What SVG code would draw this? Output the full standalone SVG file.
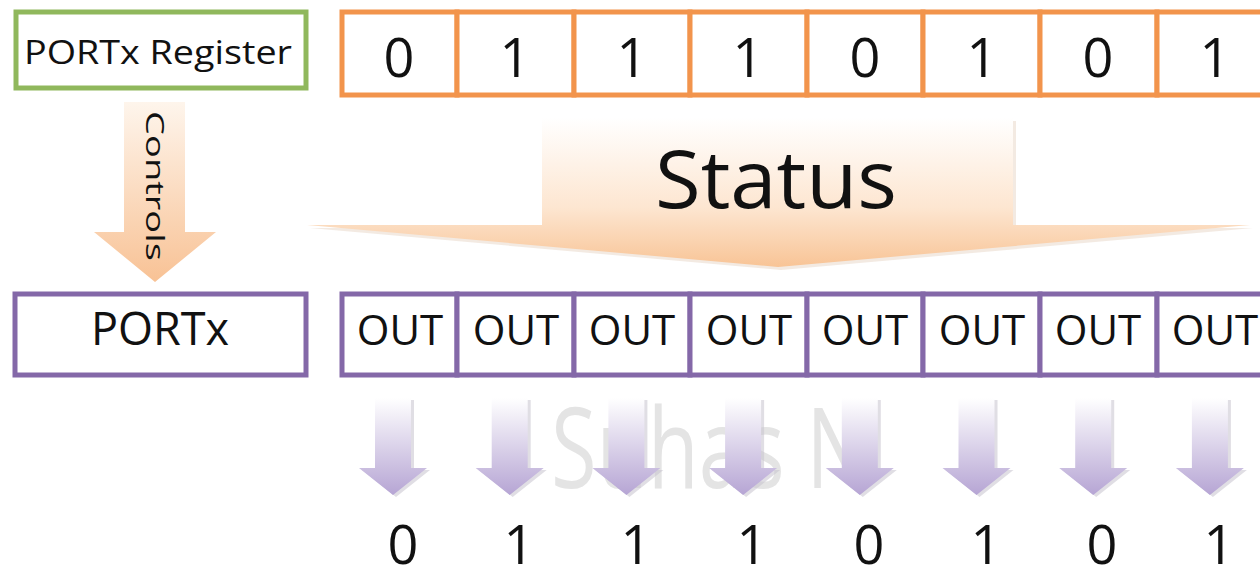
<svg xmlns="http://www.w3.org/2000/svg" width="1260" height="566" viewBox="0 0 1260 566">
<defs>
<linearGradient id="gPeach" x1="0" y1="0" x2="0" y2="1">
<stop offset="0" stop-color="#ffffff"/>
<stop offset="0.6" stop-color="#fde6d1"/>
<stop offset="1" stop-color="#f8c496"/>
</linearGradient>
<linearGradient id="gCtrl" x1="0" y1="0" x2="0" y2="1">
<stop offset="0" stop-color="#fef5ec"/>
<stop offset="1" stop-color="#f8c295"/>
</linearGradient>
<linearGradient id="gPurple" x1="0" y1="0" x2="0" y2="1">
<stop offset="0" stop-color="#ffffff"/>
<stop offset="1" stop-color="#b6a5d4"/>
</linearGradient>
<polygon id="outArrow" points="-18,0 18,0 18,70 34,70 0,97 -34,70 -18,70"/>
</defs>
<style>
.txt{font-family:"Open Sans","Liberation Sans",sans-serif;fill:#111;text-anchor:middle}
.orange{fill:#fff;stroke:#f2944c;stroke-width:5}
.purple{fill:#fff;stroke:#8468a8;stroke-width:5}
.green{fill:#fff;stroke:#90b85c;stroke-width:5}
.bit{font-size:54px}
.out{font-size:42px}
.shadow{fill:#c7c2ce;opacity:0.55}
</style>
<rect width="1260" height="566" fill="#fff"/>
<text x="710" y="488" font-family="Open Sans,Liberation Sans,sans-serif" font-size="112" fill="#e4e4e4" text-anchor="middle" textLength="318" lengthAdjust="spacingAndGlyphs">Suhas N</text>

<g id="connectors">
<g id="status-arrow">
<polygon points="545,121 1016,121 1016,228 1253,228 781,270 310,228 545,228" fill="#e8d6c6" opacity="0.5"/>
<polygon points="542,118 1013,118 1013,225 1250,225 778,267 307,225 542,225" fill="url(#gPeach)"/>
<text class="txt" x="776" y="208" font-size="80" textLength="242" lengthAdjust="spacingAndGlyphs">Status</text>
</g>
<g id="controls-arrow">
<polygon points="124,102 185,102 185,232 216,232 155,282 94,232 124,232" fill="url(#gCtrl)"/>
<text class="txt" transform="translate(146,186) rotate(90)" font-size="25" textLength="150" lengthAdjust="spacingAndGlyphs">Controls</text>
</g>
<g id="out-arrows">
<use href="#outArrow" transform="translate(396,400)" class="shadow"/>
<use href="#outArrow" transform="translate(393,398)" fill="url(#gPurple)"/>
<use href="#outArrow" transform="translate(512.7,400)" class="shadow"/>
<use href="#outArrow" transform="translate(509.7,398)" fill="url(#gPurple)"/>
<use href="#outArrow" transform="translate(629.4,400)" class="shadow"/>
<use href="#outArrow" transform="translate(626.4,398)" fill="url(#gPurple)"/>
<use href="#outArrow" transform="translate(746.1,400)" class="shadow"/>
<use href="#outArrow" transform="translate(743.1,398)" fill="url(#gPurple)"/>
<use href="#outArrow" transform="translate(862.8,400)" class="shadow"/>
<use href="#outArrow" transform="translate(859.8,398)" fill="url(#gPurple)"/>
<use href="#outArrow" transform="translate(979.5,400)" class="shadow"/>
<use href="#outArrow" transform="translate(976.5,398)" fill="url(#gPurple)"/>
<use href="#outArrow" transform="translate(1096.2,400)" class="shadow"/>
<use href="#outArrow" transform="translate(1093.2,398)" fill="url(#gPurple)"/>
<use href="#outArrow" transform="translate(1212.9,400)" class="shadow"/>
<use href="#outArrow" transform="translate(1209.9,398)" fill="url(#gPurple)"/>
</g>
</g>

<g id="portx-register">
<rect class="green" x="16" y="12" width="290" height="76"/>
<text class="txt" x="158" y="64" font-size="33" textLength="268" lengthAdjust="spacingAndGlyphs">PORTx Register</text>
</g>

<g id="register-bits">
<rect class="orange" x="342" y="12" width="115" height="83"/>
<rect class="orange" x="457" y="12" width="117" height="83"/>
<rect class="orange" x="574" y="12" width="116" height="83"/>
<rect class="orange" x="690" y="12" width="117" height="83"/>
<rect class="orange" x="807" y="12" width="116" height="83"/>
<rect class="orange" x="923" y="12" width="117" height="83"/>
<rect class="orange" x="1040" y="12" width="117" height="83"/>
<rect class="orange" x="1157" y="12" width="120" height="83"/>
<text class="txt bit" x="399" y="77">0</text>
<text class="txt bit" x="515" y="77">1</text>
<text class="txt bit" x="632" y="77">1</text>
<text class="txt bit" x="748" y="77">1</text>
<text class="txt bit" x="865" y="77">0</text>
<text class="txt bit" x="982" y="77">1</text>
<text class="txt bit" x="1098" y="77">0</text>
<text class="txt bit" x="1215" y="77">1</text>
</g>

<g id="portx">
<rect class="purple" x="15" y="294" width="291" height="81"/>
<text class="txt" x="160" y="345" font-size="45">PORTx</text>
</g>

<g id="out-cells">
<rect class="purple" x="342" y="294" width="115" height="81"/>
<rect class="purple" x="457" y="294" width="117" height="81"/>
<rect class="purple" x="574" y="294" width="116" height="81"/>
<rect class="purple" x="690" y="294" width="117" height="81"/>
<rect class="purple" x="807" y="294" width="116" height="81"/>
<rect class="purple" x="923" y="294" width="117" height="81"/>
<rect class="purple" x="1040" y="294" width="117" height="81"/>
<rect class="purple" x="1157" y="294" width="120" height="81"/>
<text class="txt out" x="400" y="345">OUT</text>
<text class="txt out" x="516" y="345">OUT</text>
<text class="txt out" x="632" y="345">OUT</text>
<text class="txt out" x="749" y="345">OUT</text>
<text class="txt out" x="865" y="345">OUT</text>
<text class="txt out" x="982" y="345">OUT</text>
<text class="txt out" x="1098" y="345">OUT</text>
<text class="txt out" x="1215" y="345">OUT</text>
</g>

<g id="output-values">
<text class="txt bit" x="403" y="564">0</text>
<text class="txt bit" x="519" y="564">1</text>
<text class="txt bit" x="636" y="564">1</text>
<text class="txt bit" x="752" y="564">1</text>
<text class="txt bit" x="869" y="564">0</text>
<text class="txt bit" x="986" y="564">1</text>
<text class="txt bit" x="1102" y="564">0</text>
<text class="txt bit" x="1219" y="564">1</text>
</g>
</svg>
